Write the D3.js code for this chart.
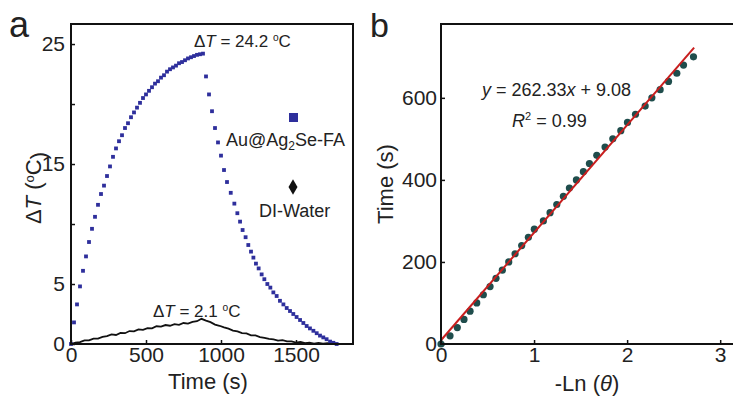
<!DOCTYPE html>
<html>
<head>
<meta charset="utf-8">
<script src="https://cdn.jsdelivr.net/npm/d3@7"></script>
<style>
  body { margin: 0; background: #fff; }
  svg text { font-family: "Liberation Sans", Arial, sans-serif; fill: #222; }
</style>
</head>
<body>
<div id="chart"></div>
<script>
// Panel a: heating / cooling curves
const heatTime = [0, 20, 40, 60, 80, 100, 120, 140, 160, 180, 200, 220, 240, 260, 280, 300, 320, 340, 360, 380,
  400, 420, 440, 460, 480, 500, 520, 540, 560, 580, 600, 620, 640, 660, 680, 700, 720, 740, 760, 780,
  800, 820, 840, 860, 880];
const heatDT = [0, 1.8, 3.3, 4.8, 6.1, 7.3, 8.5, 9.6, 10.6, 11.6, 12.5, 13.2, 14.0, 14.8, 15.6, 16.3, 16.9, 17.4, 18.0, 18.4,
  18.9, 19.3, 19.7, 20.1, 20.5, 20.8, 21.1, 21.4, 21.7, 21.9, 22.2, 22.4, 22.7, 22.9, 23.05, 23.2, 23.4, 23.5, 23.65, 23.8,
  23.9, 24.0, 24.1, 24.15, 24.2];
const coolTime = [900, 920, 940, 960, 980, 1000, 1020, 1040, 1065, 1089, 1109, 1127, 1144, 1164, 1182, 1200, 1216, 1233,
  1251, 1271, 1289, 1309, 1329, 1349, 1371, 1393, 1416, 1438, 1460, 1482, 1504, 1527, 1549, 1571, 1593, 1616,
  1638, 1660, 1682, 1704, 1727, 1749, 1771];
const coolDT = [22.3, 20.8, 19.4, 18.0, 16.8, 15.7, 14.5, 13.5, 12.6, 11.7, 10.9, 10.2, 9.5, 8.9, 8.25, 7.7, 7.2, 6.7,
  6.3, 5.8, 5.4, 5.0, 4.7, 4.3, 4.0, 3.6, 3.3, 3.0, 2.75, 2.5, 2.25, 2.0, 1.75, 1.5, 1.3, 1.1,
  0.9, 0.7, 0.55, 0.4, 0.2, 0.1, 0.0];
const waterTime = [0, 30, 60, 90, 120, 150, 180, 210, 240, 270, 300, 330, 360, 390, 420, 450, 480, 510, 540, 570,
  600, 630, 660, 690, 720, 750, 780, 810, 840, 870, 900, 930, 960, 990, 1020, 1050, 1080, 1110, 1140, 1170,
  1200, 1230, 1260, 1290, 1320, 1350, 1380, 1410, 1440, 1470, 1500, 1530, 1560, 1590, 1620, 1650, 1680, 1710, 1740, 1770];
const waterDT = [0.0, 0.12, 0.15, 0.3, 0.3, 0.45, 0.45, 0.6, 0.65, 0.8, 0.75, 0.92, 0.9, 1.08, 1.05, 1.22, 1.18, 1.32, 1.3, 1.48,
  1.45, 1.58, 1.52, 1.65, 1.6, 1.75, 1.7, 1.85, 1.9, 2.1, 1.95, 1.82, 1.62, 1.52, 1.38, 1.28, 1.12, 1.05, 0.9, 0.88,
  0.72, 0.72, 0.58, 0.52, 0.42, 0.38, 0.28, 0.32, 0.22, 0.22, 0.12, 0.18, 0.08, 0.12, 0.04, 0.1, 0.03, 0.06, 0.0, 0.02];
const aXTicks = [0, 500, 1000, 1500];
const aYTicks = [0, 5, 10, 15, 20, 25];
const aYLabels = [0, 5, 15, 25];

// Panel b: linear fit of cooling time vs -ln(theta)
const fitTime = [0, 20, 40, 60, 80, 100, 120, 140, 160, 180, 200, 220, 240, 260, 280, 300, 320, 340,
  360, 380, 400, 420, 440, 460, 480, 500, 520, 540, 560, 580, 600, 620, 640, 660, 680, 700];
const negLnTheta = [0, 0.097, 0.175, 0.247, 0.312, 0.384, 0.455, 0.527, 0.591, 0.659, 0.728, 0.796, 0.867, 0.939, 1.003, 1.10, 1.172, 1.244,
  1.315, 1.38, 1.455, 1.53, 1.595, 1.674, 1.763, 1.846, 1.932, 2.004, 2.09, 2.194, 2.266, 2.355, 2.445, 2.534, 2.606, 2.713];
const fitSlope = 262.33, fitIntercept = 9.08, fitXEnd = 2.72;
const bXTicks = [0, 1, 2, 3];
const bYTicks = [0, 200, 400, 600];

const width = 733, height = 401;
const svg = d3.select("#chart").append("svg")
  .attr("width", width).attr("height", height);

function styleAxis(g, fontSize) {
  g.select(".domain").remove();
  g.selectAll("line").attr("stroke", "#111").attr("stroke-width", 1.5);
  g.selectAll("text").attr("font-size", fontSize).attr("fill", "#222")
    .style("font-family", "'Liberation Sans', Arial, sans-serif");
}

function drawFrame(left, right, top, bottom) {
  svg.append("rect")
    .attr("x", left).attr("y", top)
    .attr("width", right - left).attr("height", bottom - top)
    .attr("fill", "none").attr("stroke", "#111").attr("stroke-width", 2);
}

function degC(sel) {
  sel.append("tspan").attr("font-size", "0.6em").attr("dy", "-0.55em").text("o");
  sel.append("tspan").attr("dy", "0.33em").text("C");
}

const fmt = d3.format("d");

// ---------- panel a ----------
const ax = d3.scaleLinear().domain([0, 1880]).range([71, 353]);
const ay = d3.scaleLinear().domain([0, 26.67]).range([344, 24]);

svg.append("g").attr("transform", "translate(0,344)")
  .call(d3.axisBottom(ax).tickValues(aXTicks).tickFormat(fmt).tickSizeInner(-4).tickSizeOuter(0).tickPadding(3))
  .call(g => styleAxis(g, 21));
svg.append("g").attr("transform", "translate(71,0)")
  .call(d3.axisLeft(ay).tickValues(aYTicks).tickSizeInner(-4).tickSizeOuter(0).tickPadding(6)
    .tickFormat(d => aYLabels.includes(d) ? d : ""))
  .call(g => styleAxis(g, 21));

svg.append("path")
  .datum(waterTime.map((t, i) => [t, waterDT[i]]))
  .attr("fill", "none").attr("stroke", "#111").attr("stroke-width", 1.8)
  .attr("d", d3.line().x(d => ax(d[0])).y(d => ay(d[1])));

const blue = "#2e2f9c";
const sq = 3.8;
svg.append("g").selectAll("rect")
  .data(heatTime.map((t, i) => [t, heatDT[i]]).concat(coolTime.map((t, i) => [t, coolDT[i]])))
  .enter().append("rect")
  .attr("x", d => ax(d[0]) - sq / 2).attr("y", d => ay(d[1]) - sq / 2)
  .attr("width", sq).attr("height", sq).attr("fill", blue);

drawFrame(71, 353, 24, 344);

// legend
svg.append("rect").attr("x", 289).attr("y", 113).attr("width", 9).attr("height", 9).attr("fill", blue);
const lg1 = svg.append("text").attr("x", 226).attr("y", 146).attr("font-size", 18);
lg1.append("tspan").text("Au@Ag");
lg1.append("tspan").attr("font-size", 12).attr("dy", 4).text("2");
lg1.append("tspan").attr("dy", -4).text("Se-FA");
svg.append("path").attr("transform", "translate(293,187)")
  .attr("d", d3.symbol(d3.symbolDiamond, 70)()).attr("fill", "#111");
svg.append("text").attr("x", 259).attr("y", 217).attr("font-size", 18).text("DI-Water");

// annotations
const an1 = svg.append("text").attr("x", 194).attr("y", 47).attr("font-size", 17);
an1.append("tspan").text("Δ");
an1.append("tspan").attr("font-style", "italic").text("T");
an1.append("tspan").text(" = 24.2 ");
degC(an1);
const an2 = svg.append("text").attr("x", 153).attr("y", 317).attr("font-size", 17);
an2.append("tspan").text("Δ");
an2.append("tspan").attr("font-style", "italic").text("T");
an2.append("tspan").text(" = 2.1 ");
degC(an2);

// axis titles
svg.append("text").attr("x", 208).attr("y", 389).attr("text-anchor", "middle")
  .attr("font-size", 22).text("Time (s)");
const ayt = svg.append("text").attr("transform", "translate(41,188) rotate(-90)")
  .attr("text-anchor", "middle").attr("font-size", 22);
ayt.append("tspan").text("Δ");
ayt.append("tspan").attr("font-style", "italic").text("T");
ayt.append("tspan").text(" (");
degC(ayt);
ayt.append("tspan").attr("dy", "0.22em").text(")");

svg.append("text").attr("x", 9).attr("y", 37).attr("font-size", 36).text("a");

// ---------- panel b ----------
const bx = d3.scaleLinear().domain([0, 3.17]).range([441, 736]);
const by = d3.scaleLinear().domain([0, 780]).range([344, 24]);

svg.append("g").attr("transform", "translate(0,344)")
  .call(d3.axisBottom(bx).tickValues(bXTicks).tickFormat(fmt).tickSizeInner(-4).tickSizeOuter(0).tickPadding(3))
  .call(g => styleAxis(g, 21));
svg.append("g").attr("transform", "translate(441,0)")
  .call(d3.axisLeft(by).tickValues(bYTicks).tickFormat(fmt).tickSizeInner(-4).tickSizeOuter(0).tickPadding(4))
  .call(g => styleAxis(g, 21));

svg.append("g").selectAll("circle")
  .data(negLnTheta.map((x, i) => [x, fitTime[i]]))
  .enter().append("circle")
  .attr("cx", d => bx(d[0])).attr("cy", d => by(d[1]))
  .attr("r", 3.6).attr("fill", "#1f4d4c");

svg.append("line")
  .attr("x1", bx(0)).attr("y1", by(fitIntercept))
  .attr("x2", bx(fitXEnd)).attr("y2", by(fitSlope * fitXEnd + fitIntercept))
  .attr("stroke", "#c81e1e").attr("stroke-width", 2);

drawFrame(441, 736, 24, 344);

const eq = svg.append("text").attr("x", 482).attr("y", 96).attr("font-size", 18);
eq.append("tspan").attr("font-style", "italic").text("y");
eq.append("tspan").text(" = 262.33");
eq.append("tspan").attr("font-style", "italic").text("x");
eq.append("tspan").text(" + 9.08");
const r2 = svg.append("text").attr("x", 512).attr("y", 127).attr("font-size", 18);
r2.append("tspan").attr("font-style", "italic").text("R");
r2.append("tspan").attr("font-size", 11).attr("dy", -7).text("2");
r2.append("tspan").attr("dy", 7).text(" = 0.99");

const bxt = svg.append("text").attr("x", 587).attr("y", 391).attr("text-anchor", "middle")
  .attr("font-size", 22);
bxt.append("tspan").text("-Ln (");
bxt.append("tspan").attr("font-style", "italic").text("θ");
bxt.append("tspan").text(")");
svg.append("text").attr("transform", "translate(393,184) rotate(-90)")
  .attr("text-anchor", "middle").attr("font-size", 22).text("Time (s)");

svg.append("text").attr("x", 370).attr("y", 37).attr("font-size", 34).text("b");
</script>
</body>
</html>
